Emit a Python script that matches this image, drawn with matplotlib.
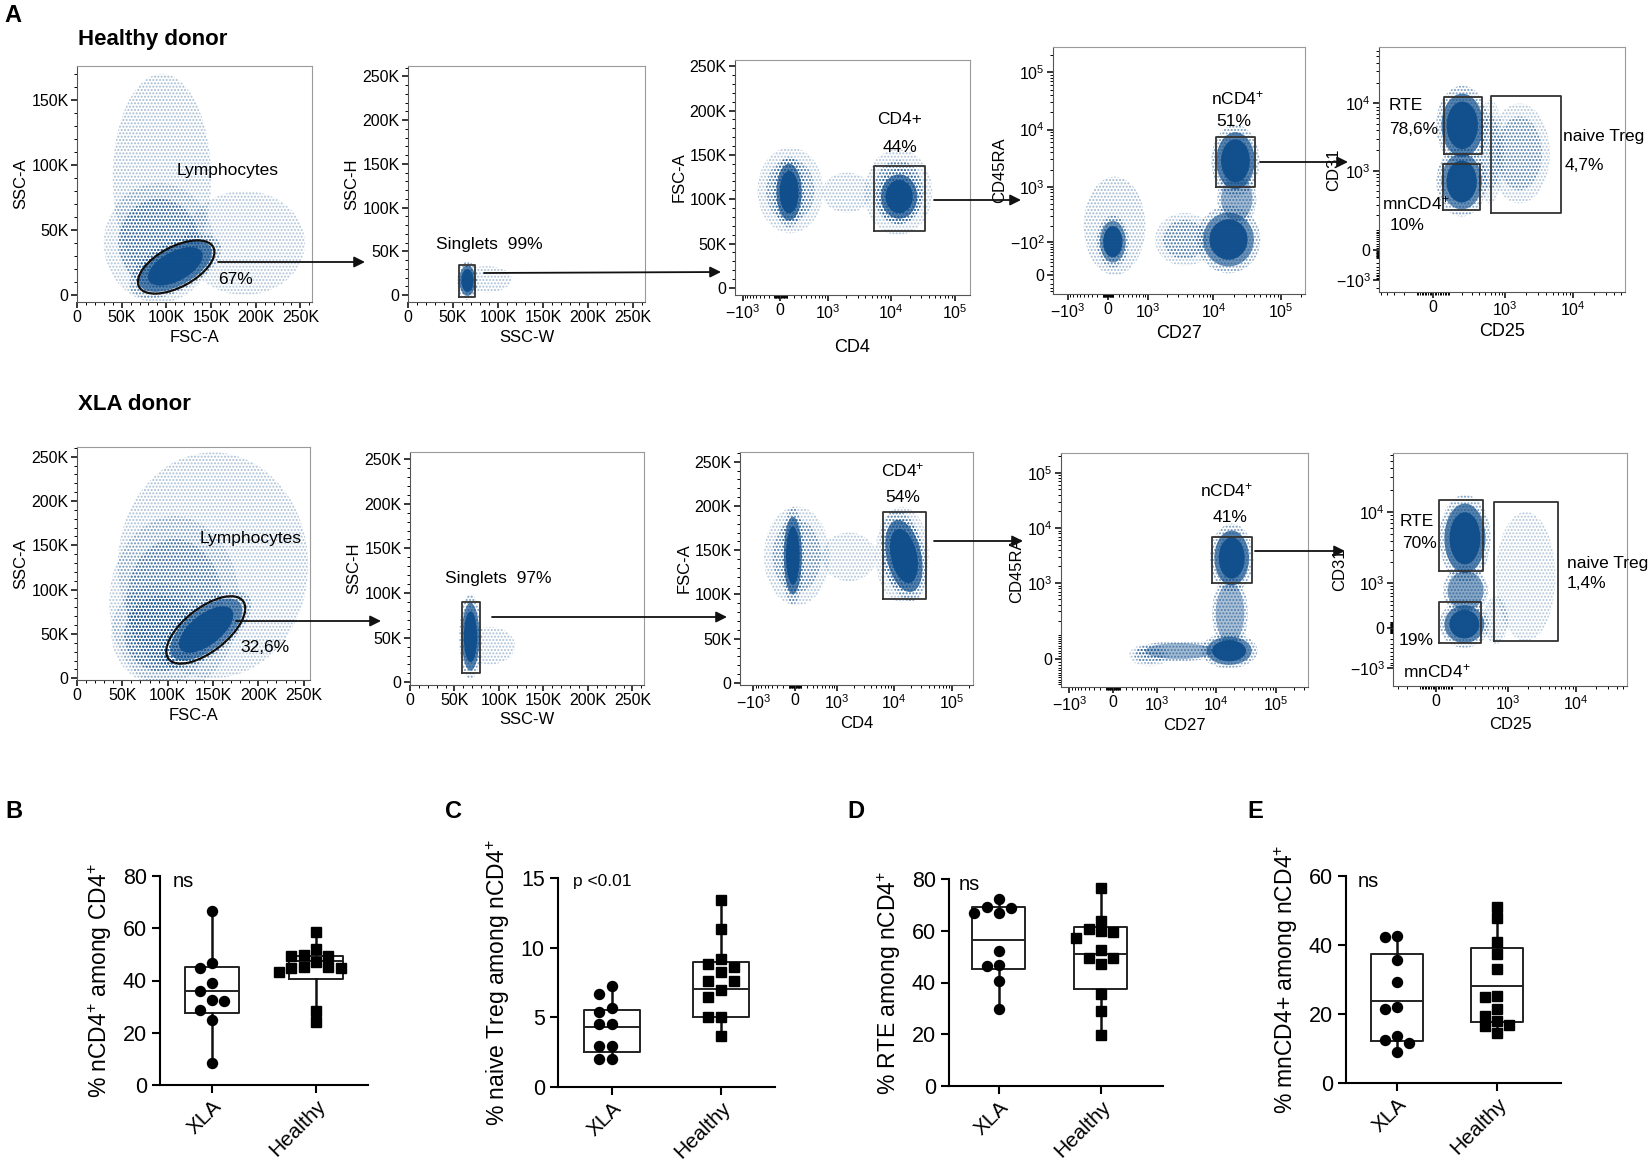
import numpy as np
import matplotlib
matplotlib.use('Agg')
import matplotlib.pyplot as plt
from matplotlib.patches import Ellipse, FancyArrowPatch

plt.rcParams['font.family'] = ['Liberation Sans', 'DejaVu Sans']
plt.rcParams['mathtext.fontset'] = 'custom'
plt.rcParams['mathtext.rm'] = 'Liberation Sans'
plt.rcParams['mathtext.it'] = 'Liberation Sans:italic'
plt.rcParams['mathtext.bf'] = 'Liberation Sans:bold'
plt.rcParams['hatch.linewidth'] = 1.0

W, H = 1649, 1167
BLUE = '#0f4e8c'

# ---------------- box plot data (B-E) ----------------
groups = ['XLA', 'Healthy']

ncd4_xla = [66.7, 46.8, 44.8, 39.0, 36.0, 32.4, 32.2, 28.6, 24.8, 8.5]
ncd4_healthy = [58.7, 52.2, 49.6, 49.4, 49.2, 47.0, 45.2, 45.0, 44.8, 44.6, 43.3, 28.5, 24.3]
treg_xla = [7.27, 6.66, 5.64, 5.4, 4.5, 4.5, 2.95, 2.95, 2.0, 2.0]
treg_healthy = [13.4, 11.36, 9.22, 8.82, 8.63, 8.27, 7.62, 7.6, 6.96, 6.49, 4.99, 4.99, 3.68]
rte_xla = [72.1, 69.2, 68.7, 66.7, 66.7, 52.2, 46.7, 46.3, 40.6, 29.8]
rte_healthy = [76.6, 63.9, 60.7, 60.0, 59.4, 57.3, 52.4, 49.6, 49.6, 47.1, 35.6, 29.1, 19.7]
mncd4_xla = [42.6, 42.2, 35.7, 29.3, 21.9, 21.5, 13.6, 12.6, 11.7, 9.0]
mncd4_healthy = [51.1, 47.9, 41.0, 37.4, 33.1, 25.3, 25.0, 21.5, 19.5, 18.1, 16.7, 16.4, 14.5]

# box statistics: min, q1, median, q3, max
ncd4_box = [[8.5, 27.7, 36.0, 45.3, 66.7], [24.3, 40.5, 47.5, 49.4, 58.7]]
treg_box = [[2.0, 2.54, 4.3, 5.56, 7.27], [3.68, 4.99, 7.0, 8.98, 13.4]]
rte_box = [[29.8, 45.2, 56.5, 69.2, 72.1], [19.7, 37.4, 51.0, 61.3, 76.6]]
mncd4_box = [[9.0, 12.3, 23.9, 37.4, 42.6], [14.5, 17.6, 28.2, 39.2, 51.1]]

# ---------------- flow populations ----------------
# (x_lo, x_hi, y_lo, y_hi, tilt, density)
hd_lymph_pops = [(40e3, 150e3, 10e3, 170e3, 0, 0.10), (120e3, 255e3, 0, 80e3, 0, 0.06),
                 (38e3, 145e3, 0, 80e3, 0, 0.35), (65e3, 155e3, 7e3, 37e3, 28, 1.0)]
hd_single_pops = [(60e3, 115e3, 3e3, 33e3, 0, 0.08), (57e3, 75e3, -1e3, 34e3, 0, 1.0)]
hd_cd4_pops = [(800, 5000, 85e3, 130e3, 0, 0.07), (-350, 700, 68e3, 152e3, 0, 0.25),
               (-60, 320, 76e3, 140e3, 0, 1.0), (4500, 38e3, 66e3, 150e3, 0, 0.3),
               (7000, 26e3, 78e3, 128e3, 0, 1.0)]
hd_ncd4_pops = [(-500, 900, 0, 1500, 0, 0.12), (-150, 350, 30, 250, 0, 0.8),
                (1500, 9000, 30, 300, 0, 0.3), (7000, 40e3, 20, 350, 0, 0.85),
                (13e3, 38e3, 250, 1500, 0, 0.55), (11e3, 41e3, 900, 9e3, 0, 1.0)]
hd_rte_pops = [(650, 4000, 400, 8e3, 0, 0.2), (380, 900, 400, 9e3, 0, 0.15),
               (50, 440, 250, 1.8e3, 0, 0.9), (50, 460, 1.6e3, 14e3, 0, 1.0)]

xla_lymph_pops = [(45e3, 255e3, 0, 255e3, 0, 0.08), (45e3, 170e3, 0, 170e3, 0, 0.2),
                  (45e3, 140e3, 0, 100e3, 0, 0.4), (95e3, 190e3, 32e3, 78e3, 38, 0.9)]
xla_single_pops = [(62e3, 118e3, 20e3, 62e3, 0, 0.08), (58e3, 78e3, 13e3, 89e3, 0, 1.0)]
xla_cd4_pops = [(500, 5000, 115e3, 170e3, 0, 0.05), (-500, 600, 95e3, 192e3, 0, 0.2),
                (-180, 110, 100e3, 188e3, 0, 1.0), (5500, 35e3, 98e3, 192e3, 0, 0.25),
                (7500, 30e3, 102e3, 185e3, 12, 1.0)]
xla_ncd4_pops = [(300, 1500, -20, 50, 0, 0.2), (600, 9000, 0, 60, 0, 0.55),
                 (7000, 40e3, -20, 90, 0, 0.9), (10e3, 30e3, 60, 1000, 0, 0.5),
                 (9500, 36e3, 900, 9e3, 0, 1.0)]
xla_rte_pops = [(650, 5000, -250, 10e3, 0, 0.04), (420, 1000, -300, 600, 0, 0.12),
                (70, 420, 300, 1.5e3, 0, 0.7), (50, 430, -290, 400, 0, 0.95),
                (50, 450, 1.4e3, 13e3, 0, 1.0)]

# gates
hd_lymph_gate = (64e3, 158e3, 6e3, 37e3, 28)
hd_single_gate = (57e3, 74e3, -2e3, 34e3)
hd_cd4_gate = (5.4e3, 34e3, 64e3, 138e3)
hd_ncd4_gate = (10.9e3, 41e3, 990, 7.4e3)
hd_rte_gates = [(67, 443, 1.78e3, 12.5e3), (60, 410, 245, 1.27e3), (612, 6.7e3, 218, 12.8e3)]
xla_lymph_gate = (90e3, 194e3, 30e3, 79e3, 38)
xla_single_gate = (59e3, 79e3, 11e3, 90e3)
xla_cd4_gate = (6.5e3, 36e3, 95e3, 193e3)
xla_ncd4_gate = (8.7e3, 40e3, 1000, 6.8e3)
xla_rte_gates = [(18, 410, 1.5e3, 14.6e3), (18, 380, -285, 470), (612, 5.5e3, -245, 13.6e3)]

lin_ticks = [0, 50e3, 100e3, 150e3, 200e3, 250e3]
lin_labels = ['0', '50K', '100K', '150K', '200K', '250K']
log_ticks = [-1e3, 0, 1e3, 1e4, 1e5]
log_labels = ['$-10^3$', '0', '$10^3$', '$10^4$', '$10^5$']

fig = plt.figure(figsize=(W / 100, H / 100), dpi=100)


def px_axes(x0, y0, x1, y1):
    return fig.add_axes([x0 / W, 1 - y1 / H, (x1 - x0) / W, (y1 - y0) / H])


def ftext(x, y, s, size=12, ha='left', va='center', **kw):
    fig.text(x / W, 1 - y / H, s, fontsize=size, ha=ha, va=va, **kw)


def logicle(c, s=1.0):
    def fwd(v):
        a = np.arcsinh(np.asarray(v, float) / c)
        return np.where(a >= 0, a, a * s)

    def inv(u):
        u = np.asarray(u, float)
        return np.where(u >= 0, c * np.sinh(u), c * np.sinh(u / s))
    return fwd, inv


def logicle_minor(lo, hi):
    out = []
    for e in range(1, 6):
        for k in range(1, 10):
            v = k * 10 ** e
            if v < hi:
                out.append(v)
            if -v > lo:
                out.append(-v)
    return out


def flow_panel(box, xlim, ylim, xscale, yscale, xticks, yticks, xlabel, ylabel,
               xlsize=12, ylsize=12, xpad=3, ypad=2):
    ax = px_axes(*box)
    if xscale:
        ax.set_xscale('function', functions=logicle(*xscale))
    if yscale:
        ax.set_yscale('function', functions=logicle(*yscale))
    ax.set_xlim(xlim)
    ax.set_ylim(ylim)
    for axis, ticks, scale, lim in ((ax.xaxis, xticks, xscale, xlim), (ax.yaxis, yticks, yscale, ylim)):
        axis.set_ticks(ticks[0], labels=ticks[1])
        if scale:
            axis.set_ticks(logicle_minor(*lim), minor=True)
        else:
            axis.set_ticks(list(range(0, int(lim[1]), 10000)), minor=True)
    ax.tick_params(which='major', direction='out', length=4.5, width=1.1, labelsize=11.5, pad=1.5)
    ax.tick_params(which='minor', direction='out', length=2.5, width=0.7)
    for sp in ('top', 'right'):
        ax.spines[sp].set_color('#9a9a9a')
    for sp in ('left', 'bottom'):
        ax.spines[sp].set_color('#555555')
    ax.set_xlabel(xlabel, fontsize=xlsize, labelpad=xpad)
    ax.set_ylabel(ylabel, fontsize=ylsize, labelpad=ypad)
    return ax


def to_axes(ax, x, y):
    return (ax.transData + ax.transAxes.inverted()).transform((x, y))


def ell_box(ax, x0, x1, y0, y1):
    a0 = to_axes(ax, x0, y0)
    a1 = to_axes(ax, x1, y1)
    return (a0 + a1) / 2, abs(a1[0] - a0[0]), abs(a1[1] - a0[1])


def dots(ax, c, w, h, tilt, alpha):
    ax.add_patch(Ellipse(c, w, h, angle=tilt, transform=ax.transAxes, facecolor='none',
                         edgecolor=BLUE, hatch='.....', lw=0, alpha=alpha))


def draw_pops(ax, pops):
    for x0, x1, y0, y1, tilt, dens in pops:
        c, w, h = ell_box(ax, x0, x1, y0, y1)
        if dens < 0.15:
            # sparse cells: loose light dots only
            dots(ax, c, w, h, tilt, 0.25 + dens)
        elif dens < 0.5:
            dots(ax, c, w * 1.15, h * 1.15, tilt, 0.3)
            dots(ax, c, w * 0.85, h * 0.85, tilt, 0.35 + dens)
        else:
            dots(ax, c, w * 1.25, h * 1.25, tilt, 0.55)
            ax.add_patch(Ellipse(c, w, h, angle=tilt, transform=ax.transAxes,
                                 facecolor=BLUE, lw=0, alpha=0.7 * dens))
            if dens >= 0.8:
                ax.add_patch(Ellipse(c, w * 0.75, h * 0.75, angle=tilt, transform=ax.transAxes,
                                     facecolor=BLUE, lw=0, alpha=0.95))


def rect_gate(ax, g):
    x0, x1, y0, y1 = g
    ax.plot([x0, x1, x1, x0, x0], [y0, y0, y1, y1, y0], color='#333333', lw=1.3, zorder=4)


def ell_gate(ax, g):
    x0, x1, y0, y1, tilt = g
    c, w, h = ell_box(ax, x0, x1, y0, y1)
    ax.add_patch(Ellipse(c, w, h, angle=tilt, transform=ax.transAxes, fill=False,
                         edgecolor='#111111', lw=1.6, zorder=4))


def arrow(x0, y0, x1, y1):
    fig.add_artist(FancyArrowPatch((x0 / W, 1 - y0 / H), (x1 / W, 1 - y1 / H),
                                   transform=fig.transFigure, arrowstyle='-|>',
                                   mutation_scale=16, lw=1.3, color='#111111',
                                   shrinkA=0, shrinkB=0))


# ---------------- panel A, healthy donor ----------------
ftext(4, 15, 'A', size=17, weight='bold')
ftext(78, 40, 'Healthy donor', size=16, weight='bold')

ax = flow_panel((77, 66, 312, 302), (0, 263e3), (-5.4e3, 176e3), None, None,
                (lin_ticks, lin_labels), (lin_ticks[:4], lin_labels[:4]), 'FSC-A', 'SSC-A')
draw_pops(ax, hd_lymph_pops)
ell_gate(ax, hd_lymph_gate)
ftext(228, 170, 'Lymphocytes', size=12.5, ha='center')
ftext(236, 280, '67%', size=12.5, ha='center')

ax = flow_panel((408, 66, 645, 302), (0, 263e3), (-8e3, 262e3), None, None,
                (lin_ticks, lin_labels), (lin_ticks, lin_labels), 'SSC-W', 'SSC-H')
draw_pops(ax, hd_single_pops)
rect_gate(ax, hd_single_gate)
ftext(489, 245, 'Singlets  99%', size=12.5, ha='center')

ax = flow_panel((735, 60, 970, 295), (-1475, 174e3), (-8e3, 257e3), (366, 0.77), None,
                (log_ticks, log_labels), (lin_ticks, lin_labels), 'CD4', 'FSC-A',
                xlsize=13, xpad=12)
draw_pops(ax, hd_cd4_pops)
rect_gate(ax, hd_cd4_gate)
ftext(900, 119, 'CD4+', size=12.5, ha='center')
ftext(900, 147, '44%', size=12.5, ha='center')

ax = flow_panel((1053, 47, 1305, 294), (-1730, 230e3), (-48, 279e3), (540, 1.0), (57, 1.0),
                (log_ticks, log_labels),
                ([0, 100, 1e3, 1e4, 1e5], ['0', '$-10^2$', '$10^3$', '$10^4$', '$10^5$']),
                'CD27', 'CD45RA', xlsize=13, xpad=3)
draw_pops(ax, hd_ncd4_pops)
rect_gate(ax, hd_ncd4_gate)
ftext(1238, 98, 'nCD4$^{+}$', size=12.5, ha='center')
ftext(1234, 121, '51%', size=12.5, ha='center')

ax = flow_panel((1379, 47, 1625, 292), (-532, 58e3), (-2.9e3, 69e3), (175, 1.0), (133, 0.38),
                ([0, 1e3, 1e4], ['0', '$10^3$', '$10^4$']),
                ([-1e3, 0, 1e3, 1e4], ['$-10^3$', '0', '$10^3$', '$10^4$']),
                'CD25', 'CD31', xlsize=13, xpad=3, ypad=-4)
draw_pops(ax, hd_rte_pops)
for g in hd_rte_gates:
    rect_gate(ax, g)
ftext(1389, 105, 'RTE', size=12.5)
ftext(1389, 130, '78,6%', size=12.5)
ftext(1382, 203, 'mnCD4$^{+}$', size=12.5)
ftext(1390, 225, '10%', size=12.5)
ftext(1563, 137, 'naive Treg', size=12.5)
ftext(1565, 165, '4,7%', size=12.5)

arrow(218, 262, 365, 262)
arrow(484, 273, 721, 272)
arrow(934, 200, 1021, 200)
arrow(1260, 162, 1348, 162)

# ---------------- panel A, XLA donor ----------------
ftext(78, 405, 'XLA donor', size=16, weight='bold')

ax = flow_panel((77, 447, 310, 680), (0, 257e3), (-2e3, 261e3), None, None,
                (lin_ticks, lin_labels), (lin_ticks, lin_labels), 'FSC-A', 'SSC-A')
draw_pops(ax, xla_lymph_pops)
ell_gate(ax, xla_lymph_gate)
ftext(251, 538, 'Lymphocytes', size=12.5, ha='center')
ftext(265, 648, '32,6%', size=12.5, ha='center')

ax = flow_panel((410, 452, 644, 685), (0, 263e3), (-3e3, 258e3), None, None,
                (lin_ticks, lin_labels), (lin_ticks, lin_labels), 'SSC-W', 'SSC-H')
draw_pops(ax, xla_single_pops)
rect_gate(ax, xla_single_gate)
ftext(498, 578, 'Singlets  97%', size=12.5, ha='center')

ax = flow_panel((740, 452, 973, 685), (-1725, 235e3), (-2.3e3, 261e3), (392, 1.0), None,
                (log_ticks, log_labels), (lin_ticks, lin_labels), 'CD4', 'FSC-A', xpad=3)
draw_pops(ax, xla_cd4_pops)
rect_gate(ax, xla_cd4_gate)
ftext(903, 470, 'CD4$^{+}$', size=12.5, ha='center')
ftext(903, 498, '54%', size=12.5, ha='center')

ax = flow_panel((1061, 453, 1308, 687), (-1400, 348e3), (-120, 230e3), (385, 1.0), (83, 1.0),
                (log_ticks, log_labels),
                ([0, 1e3, 1e4, 1e5], ['0', '$10^3$', '$10^4$', '$10^5$']),
                'CD27', 'CD45RA', xpad=3)
draw_pops(ax, xla_ncd4_pops)
rect_gate(ax, xla_ncd4_gate)
ftext(1227, 490, 'nCD4$^{+}$', size=12.5, ha='center')
ftext(1230, 518, '41%', size=12.5, ha='center')

ax = flow_panel((1393, 453, 1627, 686), (-357, 56.6e3), (-1975, 64e3), (175, 1.0), (513, 0.89),
                ([0, 1e3, 1e4], ['0', '$10^3$', '$10^4$']),
                ([-1e3, 0, 1e3, 1e4], ['$-10^3$', '0', '$10^3$', '$10^4$']),
                'CD25', 'CD31', xpad=3)
draw_pops(ax, xla_rte_pops)
for g in xla_rte_gates:
    rect_gate(ax, g)
ftext(1400, 522, 'RTE', size=12.5)
ftext(1402, 543, '70%', size=12.5)
ftext(1399, 641, '19%', size=12.5)
ftext(1403, 671, 'mnCD4$^{+}$', size=12.5)
ftext(1567, 563, 'naive Treg', size=12.5)
ftext(1567, 584, '1,4%', size=12.5)

arrow(236, 621, 381, 621)
arrow(492, 617, 727, 617)
arrow(934, 541, 1023, 541)
arrow(1255, 551, 1345, 551)


# ---------------- panels B-E ----------------
def swarm(ax, vals, pos, step=0.12, dmin=10.0):
    bb = ax.get_window_extent()
    x0, x1 = ax.get_xlim()
    y0, y1 = ax.get_ylim()
    ppx = bb.width / (x1 - x0)
    ppy = bb.height / (y1 - y0)
    placed, xs = [], []
    for v in vals:
        for k in (0, -1, 1, -2, 2, -3, 3):
            if all(((k * step - px) * ppx) ** 2 + ((v - pv) * ppy) ** 2 >= dmin ** 2
                   for px, pv in placed):
                break
        placed.append((k * step, v))
        xs.append(pos + k * step)
    return xs


def box_panel(box, xlim, ylim, yticks, xla, healthy, stats, ylabel, note, note_x, note_size):
    ax = px_axes(*box)
    ax.set_xlim(xlim)
    ax.set_ylim(ylim)
    bstats = [dict(whislo=s[0], q1=s[1], med=s[2], q3=s[3], whishi=s[4]) for s in stats]
    ax.bxp(bstats, positions=[0, 1], widths=0.52, showfliers=False, showcaps=False,
           manage_ticks=False,
           boxprops=dict(color='#222222', lw=1.4),
           whiskerprops=dict(color='#111111', lw=1.8),
           medianprops=dict(color='#222222', lw=1.4))
    ax.plot(swarm(ax, xla, 0), xla, 'o', color='black', ms=7.2, zorder=3, clip_on=False)
    ax.plot(swarm(ax, healthy, 1), healthy, 's', color='black', ms=6.6, zorder=3, clip_on=False)
    ax.set_yticks(yticks)
    ax.set_xticks([0, 1], labels=groups)
    for sp in ('top', 'right'):
        ax.spines[sp].set_visible(False)
    for sp in ('left', 'bottom'):
        ax.spines[sp].set_linewidth(1.5)
    ax.tick_params(axis='both', direction='out', length=6, width=1.5, labelsize=15.5)
    ax.tick_params(axis='x', pad=2)
    for lab in ax.get_xticklabels():
        lab.set_rotation(45)
        lab.set_ha('right')
        lab.set_rotation_mode('anchor')
        lab.set_fontsize(15)
    ax.set_ylabel(ylabel, fontsize=16.5, labelpad=6)
    ax.text(note_x, 1.02, note, transform=ax.transAxes, fontsize=note_size, va='top')
    return ax


ftext(5, 811, 'B', size=17, weight='bold')
ftext(445, 811, 'C', size=17, weight='bold')
ftext(847, 811, 'D', size=17, weight='bold')
ftext(1247, 811, 'E', size=17, weight='bold')

box_panel((160, 876, 368, 1085), (-0.5, 1.5), (0, 80), [0, 20, 40, 60, 80],
          ncd4_xla, ncd4_healthy, ncd4_box, '% nCD4$^{+}$ among CD4$^{+}$', 'ns', 0.06, 14.5)
box_panel((558, 878, 775, 1087), (-0.5, 1.5), (0, 15), [0, 5, 10, 15],
          treg_xla, treg_healthy, treg_box, '% naive Treg among nCD4$^{+}$', 'p <0.01', 0.07, 12.5)
box_panel((949, 879, 1163, 1086), (-0.49, 1.61), (0, 80), [0, 20, 40, 60, 80],
          rte_xla, rte_healthy, rte_box, '% RTE among nCD4$^{+}$', 'ns', 0.047, 14.5)
box_panel((1346, 876, 1561, 1083), (-0.51, 1.64), (0, 60), [0, 20, 40, 60],
          mncd4_xla, mncd4_healthy, mncd4_box, '% mnCD4+ among nCD4$^{+}$', 'ns', 0.056, 14.5)

fig.savefig('out.png', dpi=100)
